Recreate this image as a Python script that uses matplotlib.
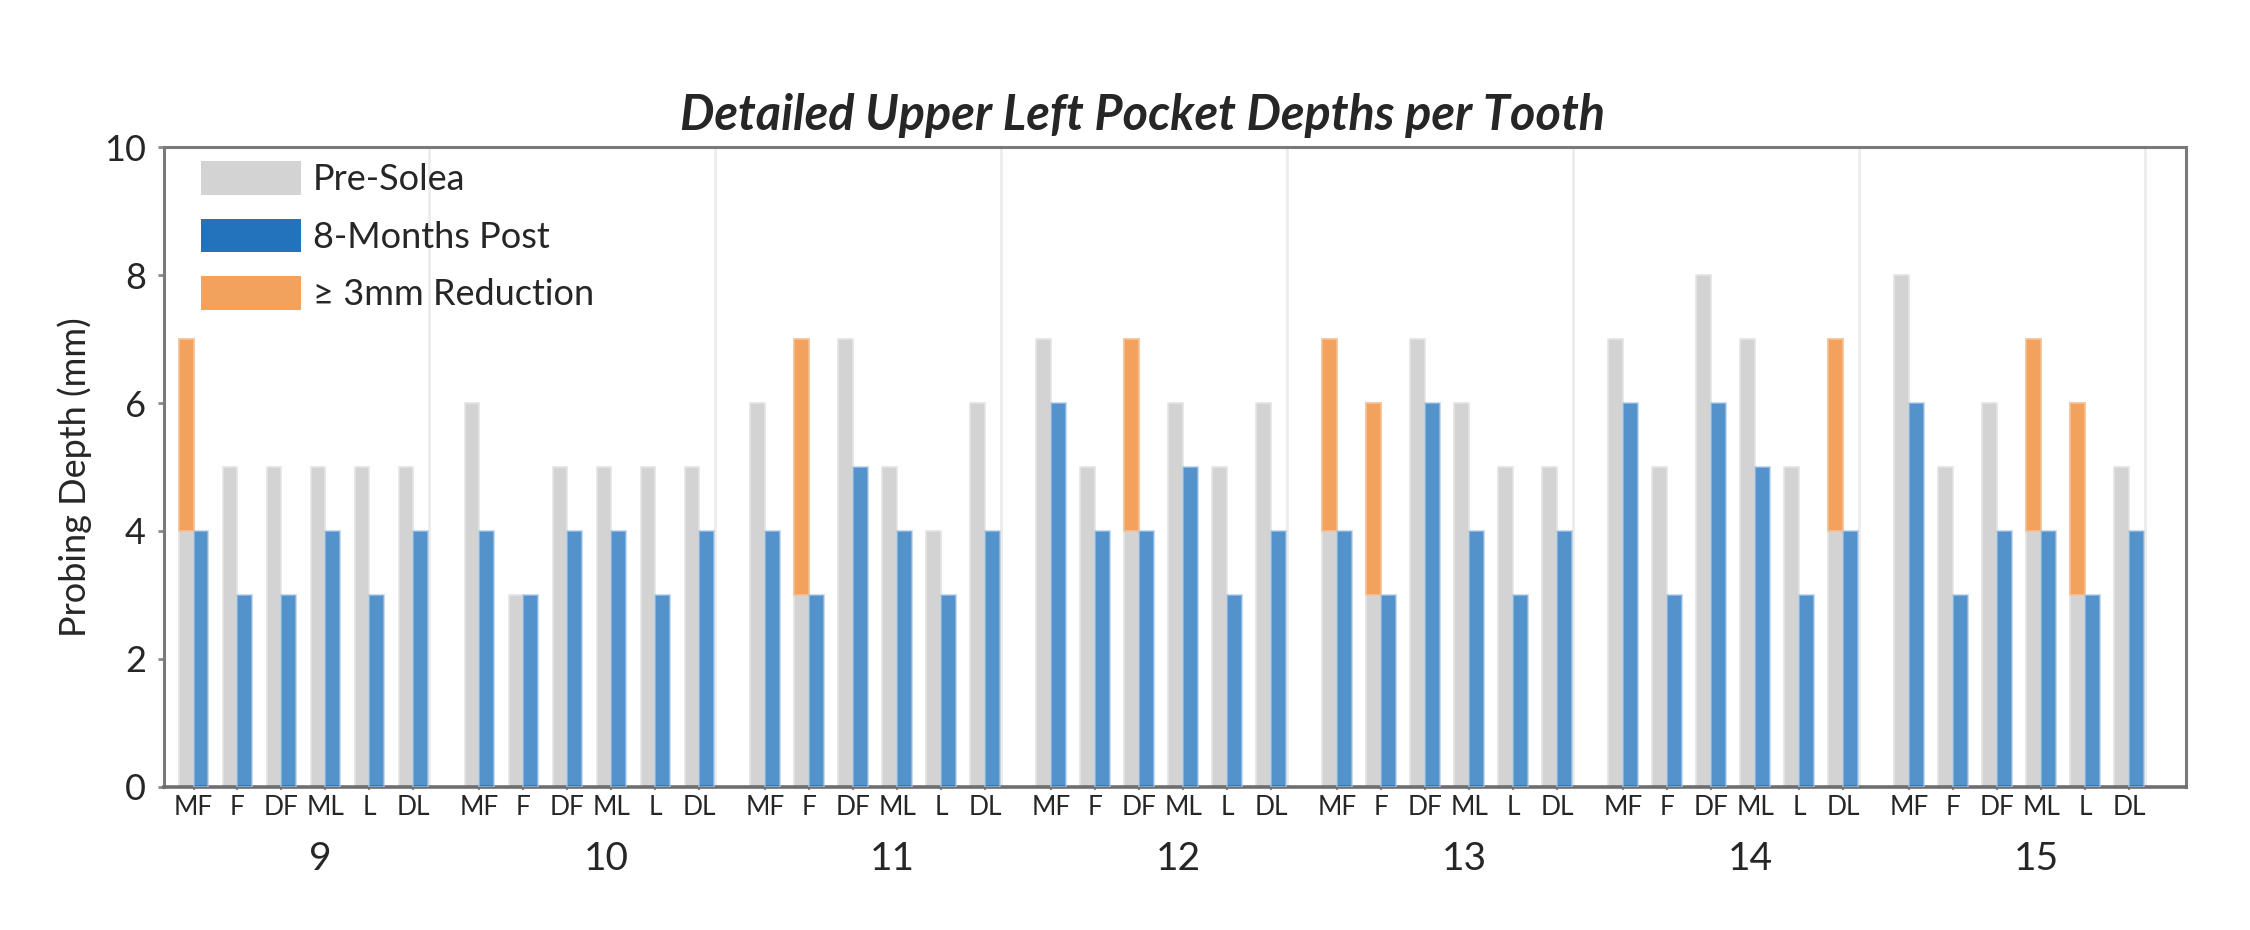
import matplotlib
matplotlib.use("Agg")
import numpy as np
from matplotlib import pyplot as plt
from matplotlib.patches import Patch
from matplotlib.transforms import blended_transform_factory

# data
teeth = ["9", "10", "11", "12", "13", "14", "15"]
sites = ["MF", "F", "DF", "ML", "L", "DL"]
pre_solea = [
    7, 5, 5, 5, 5, 5,
    6, 3, 5, 5, 5, 5,
    6, 7, 7, 5, 4, 6,
    7, 5, 7, 6, 5, 6,
    7, 6, 7, 6, 5, 5,
    7, 5, 8, 7, 5, 7,
    8, 5, 6, 7, 6, 5,
]
post_8m = [
    4, 3, 3, 4, 3, 4,
    4, 3, 4, 4, 3, 4,
    4, 3, 5, 4, 3, 4,
    6, 4, 4, 5, 3, 4,
    4, 3, 6, 4, 3, 4,
    6, 3, 6, 5, 3, 4,
    6, 3, 4, 4, 3, 4,
]

GRAY = "#d3d3d3"
BLUE = "#2273bc"
ORANGE = "#f2a25c"
TEXT = "#262626"
FONT = "Lato"

plt.rcParams["font.family"] = [FONT, "DejaVu Sans"]

pre = np.array(pre_solea, dtype=float)
post = np.array(post_8m, dtype=float)
reduced = (pre - post) >= 3

n_sites = len(sites)
group_step = 6.5
x = np.array([g * group_step + s for g in range(len(teeth)) for s in range(n_sites)])
w = 0.34

fig = plt.figure(figsize=(22.5, 9.3), dpi=100)
ax = fig.add_axes([0.0729, 0.1538, 0.8987, 0.6881])

# separators between teeth
for g in range(len(teeth)):
    ax.axvline(g * group_step + 5.35, color="#ececec", lw=2.0, zorder=0)

ax.bar(x - w / 2, pre, width=w, color=GRAY, edgecolor="#e4e4e4", linewidth=1.2, zorder=2)
ax.bar(x[reduced] - w / 2, (pre - post)[reduced], bottom=post[reduced], width=w,
       color=ORANGE, edgecolor="#f6c195", linewidth=1.2, zorder=3)
ax.bar(x + w / 2, post, width=w, color=BLUE, alpha=0.78, edgecolor="#a9c7e6",
       linewidth=1.2, zorder=3)

ax.set_xlim(-0.67, 45.29)
ax.set_ylim(0, 10)
ax.set_yticks(np.arange(0, 11, 2))
ax.tick_params(axis="y", labelsize=26, colors="#8a8a8a", labelcolor=TEXT,
               length=4, width=2, pad=9)
ax.set_xticks(x)
ax.set_xticklabels(sites * len(teeth))
ax.tick_params(axis="x", labelsize=19, colors="#8a8a8a", labelcolor=TEXT,
               length=4, width=1.5, direction="inout", pad=4)

for side in ["left", "top", "right"]:
    ax.spines[side].set_color("#7a7a7a")
    ax.spines[side].set_linewidth(2.2)
ax.spines["bottom"].set_color("#6e6e6e")
ax.spines["bottom"].set_linewidth(2.6)

# tooth numbers under each group
trans = blended_transform_factory(ax.transData, ax.transAxes)
for g, tooth in enumerate(teeth):
    ax.text(g * group_step + 2.88, -0.112, tooth, transform=trans, ha="center",
            va="center", fontsize=28, color=TEXT)

handles = [
    Patch(facecolor=GRAY, label="Pre-Solea"),
    Patch(facecolor=BLUE, label="8-Months Post"),
    Patch(facecolor=ORANGE, label="\u2265 3mm Reduction"),
]
ax.legend(handles=handles, loc="upper left", bbox_to_anchor=(0.0183, 0.978),
          frameon=False, fontsize=26, handlelength=2.77, handleheight=1.05,
          handletextpad=0.33, labelspacing=0.62, borderaxespad=0, borderpad=0,
          labelcolor=TEXT)

fig.text(0.508, 0.876, "Detailed Upper Left Pocket Depths per Tooth", ha="center",
         va="center", fontsize=35, fontweight="bold", fontstyle="italic", color=TEXT)
fig.text(0.033, 0.487, "Probing Depth (mm)", rotation=90, ha="center", va="center",
         fontsize=26, color=TEXT)

fig.savefig("out.png", dpi=100, facecolor="white")
